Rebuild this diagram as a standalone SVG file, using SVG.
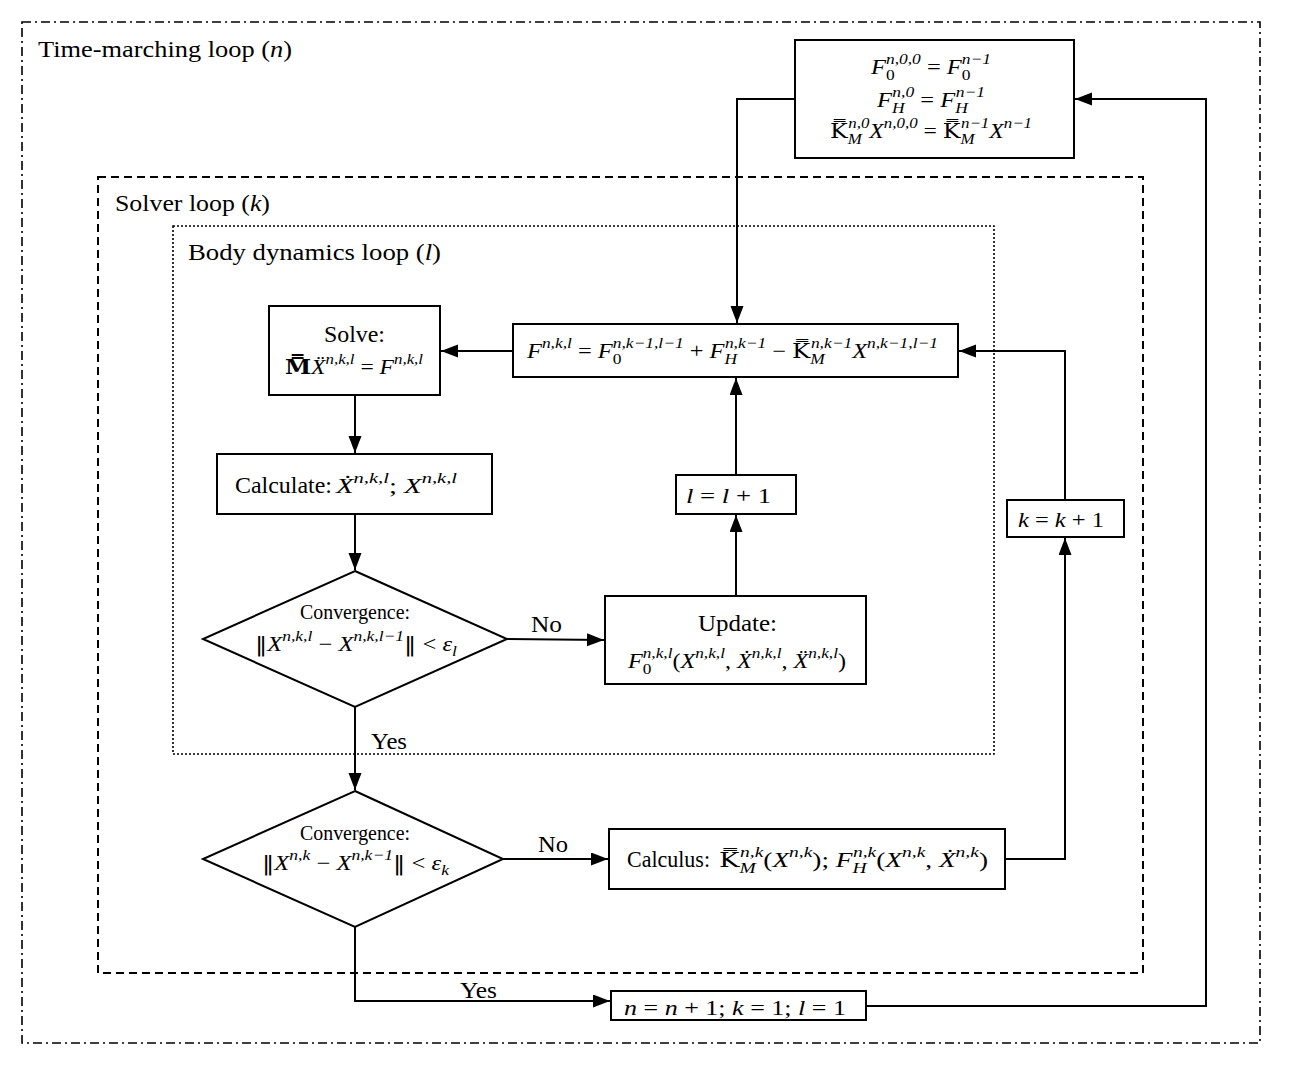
<svg xmlns="http://www.w3.org/2000/svg" width="1299" height="1077" viewBox="0 0 1299 1077">
<defs>
<marker id="ah" markerUnits="userSpaceOnUse" markerWidth="18" markerHeight="14" refX="17" refY="6.5" orient="auto">
<path d="M0,0 L17,6.5 L0,13 z" fill="#000"/>
</marker>
<style>
.box{fill:#fff;stroke:#000;stroke-width:2}
.conn{fill:none;stroke:#000;stroke-width:2;marker-end:url(#ah)}
.lbl{font-family:"Liberation Serif",serif;font-size:24px;fill:#000}
.cv{font-family:"Liberation Serif",serif;font-size:20px;fill:#000}
.m{font-family:"Liberation Serif",serif;font-style:italic;font-size:21px;fill:#000}
.up{font-style:normal}
.sm{font-size:15px}
.dj{font-family:"DejaVu Serif",serif;font-style:normal}
</style>
</defs>
<rect width="1299" height="1077" fill="#fff"/>

<g id="loops">
<rect x="22" y="22" width="1238" height="1021" fill="none" stroke="#000" stroke-width="1.6" stroke-dasharray="9 4 2 4"/>
<rect x="98" y="177" width="1045" height="796" fill="none" stroke="#000" stroke-width="2" stroke-dasharray="8 5"/>
<rect x="173" y="226" width="821" height="528" fill="none" stroke="#000" stroke-width="1.6" stroke-dasharray="2 2"/>
<text class="lbl" x="38" y="57" textLength="254" lengthAdjust="spacingAndGlyphs">Time-marching loop (<tspan font-style="italic">n</tspan>)</text>
<text class="lbl" x="115" y="211" textLength="155" lengthAdjust="spacingAndGlyphs">Solver loop (<tspan font-style="italic">k</tspan>)</text>
<text class="lbl" x="188" y="260" textLength="253" lengthAdjust="spacingAndGlyphs">Body dynamics loop (<tspan font-style="italic">l</tspan>)</text>
</g>

<g id="connectors">
<polyline class="conn" points="795,99 737,99 737,323"/>
<polyline class="conn" points="866,1006 1206,1006 1206,99 1075,99"/>
<line class="conn" x1="513" y1="351" x2="441" y2="351"/>
<line class="conn" x1="355" y1="395" x2="355" y2="453"/>
<line class="conn" x1="355" y1="514" x2="355" y2="570"/>
<line class="conn" x1="507" y1="639" x2="604" y2="640"/>
<line class="conn" x1="736" y1="596" x2="736" y2="515"/>
<line class="conn" x1="736" y1="475" x2="736" y2="378"/>
<line class="conn" x1="355" y1="707" x2="355" y2="790"/>
<line class="conn" x1="503" y1="859" x2="608" y2="859"/>
<polyline class="conn" points="1005,859 1065,859 1065,538"/>
<polyline class="conn" points="1065,500 1065,351 959,351"/>
<polyline class="conn" points="355,927 355,1001 610,1001"/>
<text class="lbl" x="531" y="632" textLength="31" lengthAdjust="spacingAndGlyphs">No</text>
<text class="lbl" x="538" y="852" textLength="30" lengthAdjust="spacingAndGlyphs">No</text>
<text class="lbl" x="371" y="749" textLength="36" lengthAdjust="spacingAndGlyphs">Yes</text>
<text class="lbl" x="460" y="998" textLength="37" lengthAdjust="spacingAndGlyphs">Yes</text>
</g>

<g id="init">
<rect class="box" x="795" y="40" width="279" height="118"/>
<text class="m" x="871" y="74" textLength="120" lengthAdjust="spacingAndGlyphs">F<tspan class="sm up" dy="6">0</tspan><tspan class="sm" dx="-7.5" dy="-16">n,0,0</tspan><tspan class="up" dy="10"> = </tspan>F<tspan class="sm up" dy="6">0</tspan><tspan class="sm" dx="-7.5" dy="-16">n−1</tspan></text>
<text class="m" x="877" y="107" textLength="108" lengthAdjust="spacingAndGlyphs">F<tspan class="sm" dy="6">H</tspan><tspan class="sm" dx="-10.5" dy="-16">n,0</tspan><tspan class="up" dy="10"> = </tspan>F<tspan class="sm" dy="6">H</tspan><tspan class="sm" dx="-10.5" dy="-16">n−1</tspan></text>
<text class="m" x="830" y="138" textLength="202" lengthAdjust="spacingAndGlyphs"><tspan class="dj">K̿</tspan><tspan class="sm" dy="6">M</tspan><tspan class="sm" dx="-12" dy="-16">n,0</tspan><tspan dy="10">X</tspan><tspan class="sm" dy="-10">n,0,0</tspan><tspan class="up" dy="10"> = </tspan><tspan class="dj">K̿</tspan><tspan class="sm" dy="6">M</tspan><tspan class="sm" dx="-12" dy="-16">n−1</tspan><tspan dy="10">X</tspan><tspan class="sm" dy="-10">n−1</tspan></text>
</g>

<g id="force">
<rect class="box" x="513" y="324" width="445" height="53"/>
<text class="m" x="527" y="358" textLength="411" lengthAdjust="spacingAndGlyphs">F<tspan class="sm" dy="-10">n,k,l</tspan><tspan class="up" dy="10"> = </tspan>F<tspan class="sm up" dy="6">0</tspan><tspan class="sm" dx="-7.5" dy="-16">n,k−1,l−1</tspan><tspan class="up" dy="10"> + </tspan>F<tspan class="sm" dy="6">H</tspan><tspan class="sm" dx="-10.5" dy="-16">n,k−1</tspan><tspan class="up" dy="10"> − </tspan><tspan class="dj">K̿</tspan><tspan class="sm" dy="6">M</tspan><tspan class="sm" dx="-12" dy="-16">n,k−1</tspan><tspan dy="10">X</tspan><tspan class="sm" dy="-10">n,k−1,l−1</tspan></text>
</g>

<g id="solve">
<rect class="box" x="269" y="306" width="171" height="89"/>
<text class="lbl" x="324" y="342" font-size="25px" textLength="61" lengthAdjust="spacingAndGlyphs">Solve:</text>
<text class="m" x="285" y="374" textLength="138" lengthAdjust="spacingAndGlyphs"><tspan class="dj" font-weight="bold">M̿</tspan>Ẍ<tspan class="sm" dy="-10">n,k,l</tspan><tspan class="up" dy="10"> = </tspan>F<tspan class="sm" dy="-10">n,k,l</tspan></text>
</g>

<g id="calculate">
<rect class="box" x="217" y="454" width="275" height="60"/>
<text class="lbl" x="235" y="493" font-size="24px" textLength="97" lengthAdjust="spacingAndGlyphs">Calculate:</text>
<text class="m" x="336" y="493" textLength="121" lengthAdjust="spacingAndGlyphs">Ẋ<tspan class="sm" dy="-10">n,k,l</tspan><tspan class="up" dy="10">; </tspan>X<tspan class="sm" dy="-10">n,k,l</tspan></text>
</g>

<g id="conv-l">
<polygon class="box" points="355,571 507,639 355,707 203,639"/>
<text class="cv" x="300" y="619" textLength="110" lengthAdjust="spacingAndGlyphs">Convergence:</text>
<text class="m" x="255" y="651" textLength="202" lengthAdjust="spacingAndGlyphs"><tspan class="dj">‖</tspan>X<tspan class="sm" dy="-10">n,k,l</tspan><tspan class="up" dy="10"> − </tspan>X<tspan class="sm" dy="-10">n,k,l−1</tspan><tspan class="dj" dy="10">‖</tspan><tspan class="up"> &lt; </tspan>ε<tspan class="sm" dy="5">l</tspan></text>
</g>

<g id="update">
<rect class="box" x="605" y="596" width="261" height="88"/>
<text class="lbl" x="698" y="631" font-size="25px" textLength="79" lengthAdjust="spacingAndGlyphs">Update:</text>
<text class="m" x="628" y="668" textLength="218" lengthAdjust="spacingAndGlyphs">F<tspan class="sm up" dy="6">0</tspan><tspan class="sm" dx="-7.5" dy="-16">n,k,l</tspan><tspan class="up" dy="10">(</tspan>X<tspan class="sm" dy="-10">n,k,l</tspan><tspan class="up" dy="10">, </tspan>Ẋ<tspan class="sm" dy="-10">n,k,l</tspan><tspan class="up" dy="10">, </tspan>Ẍ<tspan class="sm" dy="-10">n,k,l</tspan><tspan class="up" dy="10">)</tspan></text>
</g>

<g id="l-inc">
<rect class="box" x="676" y="475" width="120" height="39"/>
<text class="m" x="686" y="503" textLength="85" lengthAdjust="spacingAndGlyphs">l<tspan class="up"> = </tspan>l<tspan class="up"> + 1</tspan></text>
</g>

<g id="k-inc">
<rect class="box" x="1007" y="500" width="117" height="37"/>
<text class="m" x="1018" y="527" textLength="86" lengthAdjust="spacingAndGlyphs">k<tspan class="up"> = </tspan>k<tspan class="up"> + 1</tspan></text>
</g>

<g id="conv-k">
<polygon class="box" points="355,791 503,859 355,927 203,859"/>
<text class="cv" x="300" y="840" textLength="110" lengthAdjust="spacingAndGlyphs">Convergence:</text>
<text class="m" x="262" y="870" textLength="187" lengthAdjust="spacingAndGlyphs"><tspan class="dj">‖</tspan>X<tspan class="sm" dy="-10">n,k</tspan><tspan class="up" dy="10"> − </tspan>X<tspan class="sm" dy="-10">n,k−1</tspan><tspan class="dj" dy="10">‖</tspan><tspan class="up"> &lt; </tspan>ε<tspan class="sm" dy="5">k</tspan></text>
</g>

<g id="calculus">
<rect class="box" x="609" y="829" width="396" height="60"/>
<text class="lbl" x="627" y="867" font-size="24px" textLength="83" lengthAdjust="spacingAndGlyphs">Calculus:</text>
<text class="m" x="719" y="867" textLength="269" lengthAdjust="spacingAndGlyphs"><tspan class="dj">K̿</tspan><tspan class="sm" dy="6">M</tspan><tspan class="sm" dx="-12" dy="-16">n,k</tspan><tspan class="up" dy="10">(</tspan>X<tspan class="sm" dy="-10">n,k</tspan><tspan class="up" dy="10">); </tspan>F<tspan class="sm" dy="6">H</tspan><tspan class="sm" dx="-10.5" dy="-16">n,k</tspan><tspan class="up" dy="10">(</tspan>X<tspan class="sm" dy="-10">n,k</tspan><tspan class="up" dy="10">, </tspan>Ẋ<tspan class="sm" dy="-10">n,k</tspan><tspan class="up" dy="10">)</tspan></text>
</g>

<g id="n-inc">
<rect class="box" x="611" y="991" width="255" height="29"/>
<text class="m" x="624" y="1015" textLength="222" lengthAdjust="spacingAndGlyphs">n<tspan class="up"> = </tspan>n<tspan class="up"> + 1;  </tspan>k<tspan class="up"> = 1;  </tspan>l<tspan class="up"> = 1</tspan></text>
</g>
</svg>
